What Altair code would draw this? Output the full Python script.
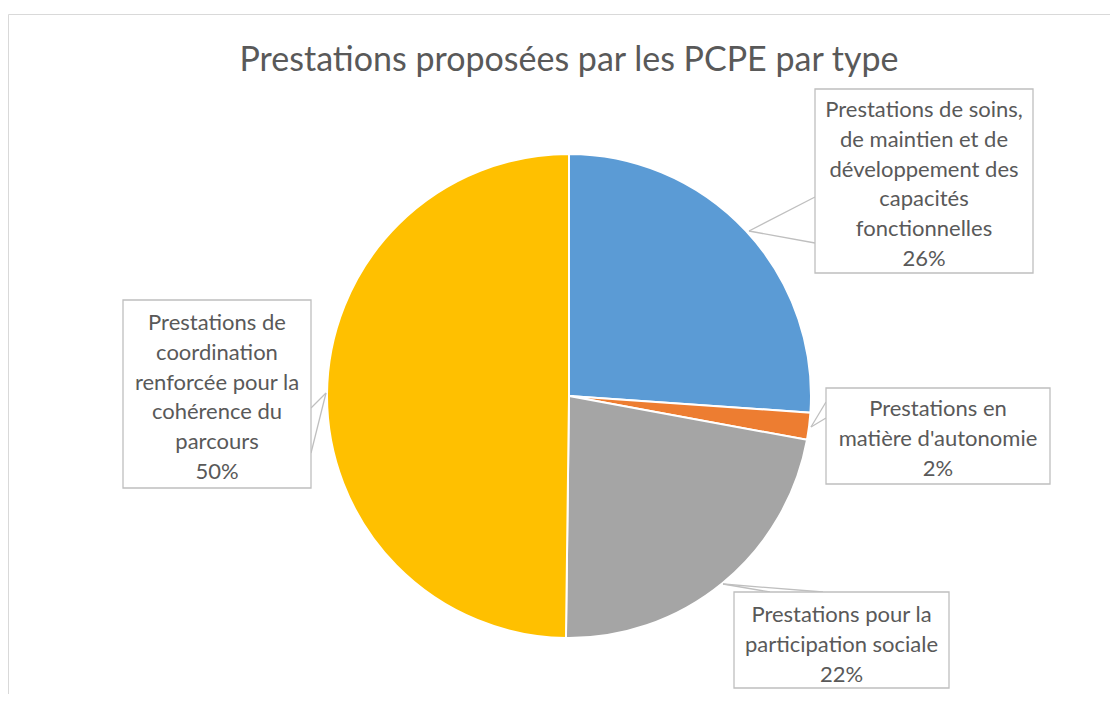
import altair as alt
import pandas as pd

# ---- data ----
categories = [
    "Prestations de soins,\nde maintien et de\ndéveloppement des\ncapacités\nfonctionnelles",
    "Prestations en\nmatière d'autonomie",
    "Prestations pour la\nparticipation sociale",
    "Prestations de\ncoordination\nrenforcée pour la\ncohérence du\nparcours",
]
values = [26.1, 1.8, 22.3, 49.8]
colors = ["#5B9BD5", "#ED7D31", "#A5A5A5", "#FFC000"]
title_text = "Prestations proposées par les PCPE par type"

# ---- layout (page pixels) ----
OFF = 8
W, H = 1118 - 2 * OFF, 702 - 2 * OFF
pie_cx, pie_cy, pie_r = 569, 396, 242
box_x0 = [815, 826, 734, 123]
box_x1 = [1033, 1050, 949, 311]
box_y0 = [89, 388, 592, 300]
box_y1 = [273, 484, 688, 488]
first_baseline = [117, 416, 622, 330]
LINE_H = 29.8
# pointer lines: tip -> two base points on box edge
ptr_tip = [(749, 231), (811, 427), (723, 584), (326, 393)]
ptr_a = [(815, 197), (826, 402), (770, 592), (311, 408)]
ptr_b = [(815, 243), (826, 418), (823, 592), (311, 453)]

total = sum(values)
pct = [f"{round(v / total * 100):d}%" for v in values]

pie_df = pd.DataFrame({"category": categories, "value": values, "order": list(range(len(values)))})

boxes = pd.DataFrame({
    "x0": [v - OFF for v in box_x0], "x1": [v - OFF for v in box_x1],
    "y0": [v - OFF for v in box_y0], "y1": [v - OFF for v in box_y1],
    "xc": [(a + b) / 2 - OFF for a, b in zip(box_x0, box_x1)],
    "yt": [v - OFF for v in first_baseline],
    "label": [c + "\n" + p for c, p in zip(categories, pct)],
})

ptr_rows = []
for t, a, b in zip(ptr_tip, ptr_a, ptr_b):
    for p in (a, b):
        ptr_rows.append({"x": t[0] - OFF, "y": t[1] - OFF, "x2": p[0] - OFF, "y2": p[1] - OFF})
ptrs = pd.DataFrame(ptr_rows)

frame = pd.DataFrame({
    "x": [0.5, 0.5], "y": [14 - OFF + 0.5, 14 - OFF + 0.5],
    "x2": [W, 0.5], "y2": [14 - OFF + 0.5, H],
})

FONT = "Lato"
TEXT_COLOR = "#595959"

frame_layer = alt.Chart(frame).mark_rule(color="#d9d9d9", strokeWidth=1).encode(
    x=alt.X("x:Q", scale=None), y=alt.Y("y:Q", scale=None),
    x2="x2:Q", y2="y2:Q",
)

pie = alt.Chart(pie_df).mark_arc(outerRadius=pie_r, stroke="white", strokeWidth=2).encode(
    theta=alt.Theta("value:Q", stack=True),
    color=alt.Color("category:N", scale=alt.Scale(domain=categories, range=colors), legend=None),
    order=alt.Order("order:Q"),
    x=alt.value(pie_cx - OFF),
    y=alt.value(pie_cy - OFF),
)

ptr_layer = alt.Chart(ptrs).mark_rule(color="#bfbfbf", strokeWidth=1.3).encode(
    x=alt.X("x:Q", scale=None), y=alt.Y("y:Q", scale=None),
    x2="x2:Q", y2="y2:Q",
)

box_layer = alt.Chart(boxes).mark_rect(fill="white", stroke="#bfbfbf", strokeWidth=1.3).encode(
    x=alt.X("x0:Q", scale=None), x2="x1:Q",
    y=alt.Y("y0:Q", scale=None), y2="y1:Q",
)

text_layer = alt.Chart(boxes).mark_text(
    font=FONT, fontSize=22, color=TEXT_COLOR, lineBreak="\n", lineHeight=LINE_H,
    align="center", baseline="alphabetic",
).encode(
    x=alt.X("xc:Q", scale=None), y=alt.Y("yt:Q", scale=None), text="label:N",
)

title_layer = alt.Chart(pd.DataFrame({"t": [title_text]})).mark_text(
    font=FONT, fontSize=34, color=TEXT_COLOR, align="center", baseline="alphabetic",
).encode(
    x=alt.value(569 - OFF), y=alt.value(71 - OFF), text="t:N",
)

chart = alt.layer(frame_layer, pie, ptr_layer, box_layer, text_layer, title_layer).properties(
    width=W, height=H, padding=0, autosize=alt.AutoSizeParams(type="none"),
).configure_view(stroke=None)

chart.save("out.html", embed_options={"renderer": "svg", "actions": False})
